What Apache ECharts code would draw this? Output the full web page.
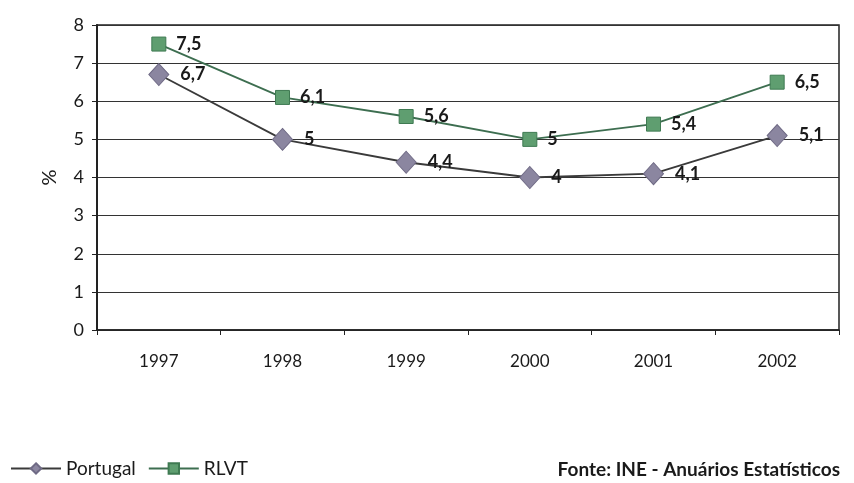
<!DOCTYPE html>
<html><head><meta charset="utf-8">
<script src="https://cdn.jsdelivr.net/npm/echarts@6/dist/echarts.min.js"></script>
<style>html,body{margin:0;padding:0;background:#fff}#c{width:854px;height:483px}</style>
</head><body><div id="c"></div>
<script>
var categories = ['1997','1998','1999','2000','2001','2002'];
var portugal = [6.7, 5, 4.4, 4, 4.1, 5.1];
var rlvt = [7.5, 6.1, 5.6, 5, 5.4, 6.5];
var yTicks = [0,1,2,3,4,5,6,7,8];

var fontFam = 'Lato, "Open Sans", sans-serif';
function fmt(p){ return String(p.value).replace('.', ','); }
var chart = echarts.init(document.getElementById('c'));
chart.setOption({
  animation: false,
  grid: {left: 97, right: 15, top: 25, bottom: 153, show: true, borderColor: '#222', borderWidth: 1.5},
  xAxis: {
    type: 'category', data: categories, boundaryGap: true,
    axisLine: {lineStyle: {color: '#222', width: 1.5}},
    axisTick: {show: true, length: 5, lineStyle: {color: '#222'}},
    axisLabel: {color: '#1a1a1a', fontSize: 17, fontFamily: fontFam, margin: 23}
  },
  yAxis: {
    type: 'value', min: 0, max: 8, interval: 1,
    name: '%', nameLocation: 'middle', nameGap: 37, nameRotate: 90,
    nameTextStyle: {color: '#1a1a1a', fontSize: 20, fontFamily: fontFam},
    axisLine: {show: true, lineStyle: {color: '#222', width: 2}},
    axisTick: {show: true, length: 5, lineStyle: {color: '#222'}},
    axisLabel: {color: '#1a1a1a', fontSize: 18, fontFamily: fontFam, margin: 13,
      formatter: function(v){ return yTicks.indexOf(v) >= 0 ? String(v) : ''; }},
    splitLine: {lineStyle: {color: '#333', width: 1}}
  },
  legend: {
    left: 8, top: 457, padding: 2, itemWidth: 50, itemHeight: 13, itemGap: 12,
    textStyle: {color: '#1a1a1a', fontSize: 19, fontFamily: fontFam},
    data: ['Portugal', 'RLVT']
  },
  graphic: [{
    type: 'text', right: 14, top: 460,
    style: {text: 'Fonte: INE - Anuários Estatísticos', fill: '#1a1a1a', font: 'bold 19px ' + fontFam}
  }],
  series: [
    {
      name: 'Portugal', type: 'line', data: portugal,
      symbol: 'diamond', symbolSize: [20, 22],
      lineStyle: {color: '#3a3a3a', width: 1.8},
      itemStyle: {color: '#8b86a0', borderColor: '#6f6a85', borderWidth: 1},
      label: {show: true, position: 'right', distance: 11, formatter: fmt,
        color: '#1a1a1a', fontSize: 18, fontWeight: 'bold', fontFamily: fontFam}
    },
    {
      name: 'RLVT', type: 'line', data: rlvt,
      symbol: 'rect', symbolSize: 14,
      lineStyle: {color: '#3d6e50', width: 1.8},
      itemStyle: {color: '#5f9e70', borderColor: '#3f7a52', borderWidth: 1},
      label: {show: true, position: 'right', distance: 10, formatter: fmt,
        color: '#1a1a1a', fontSize: 18, fontWeight: 'bold', fontFamily: fontFam}
    }
  ]
});
</script></body></html>
